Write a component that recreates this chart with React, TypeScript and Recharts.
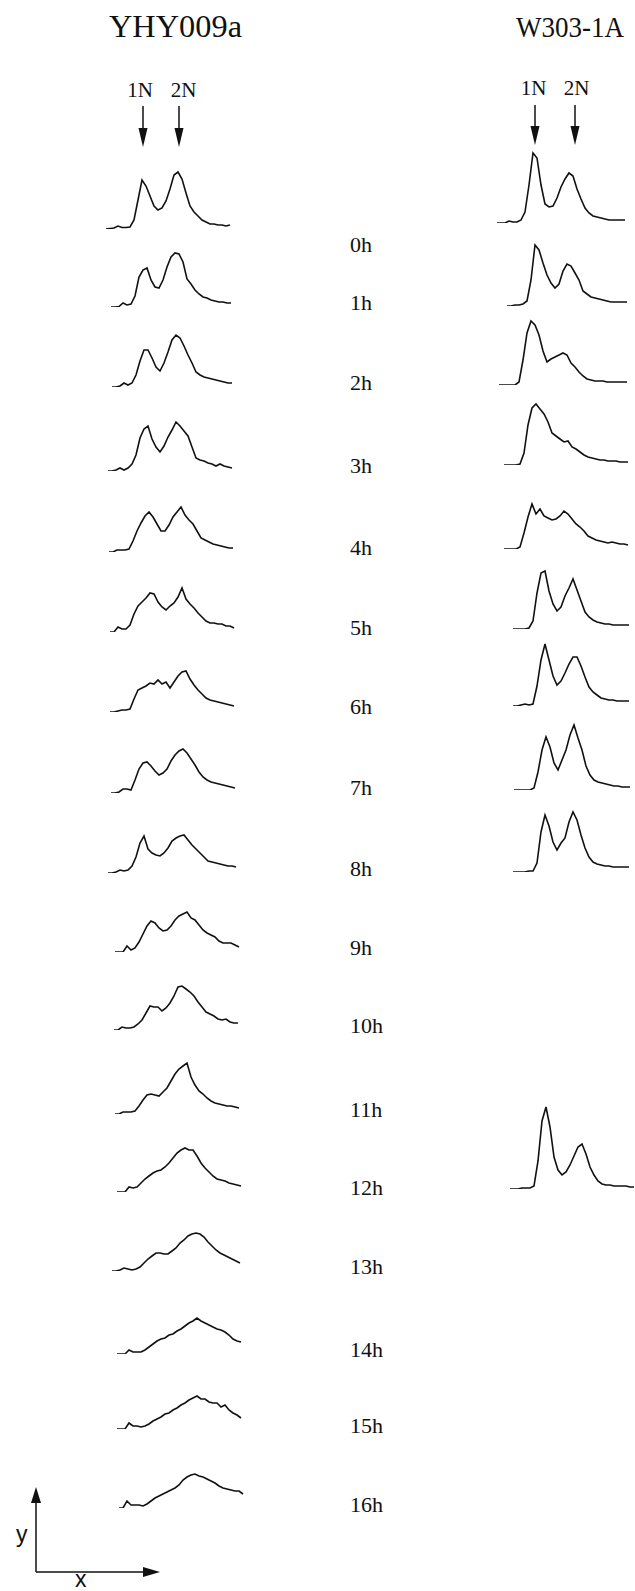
import React from 'react';
import { LineChart, Line, XAxis, YAxis } from 'recharts';

// ---- categories / labels ----
const leftTitle = 'YHY009a';
const rightTitle = 'W303-1A';
const peakLabels = ['1N', '2N'];
const leftHours = ['0h','1h','2h','3h','4h','5h','6h','7h','8h','9h','10h','11h','12h','13h','14h','15h','16h'];
const rightHours = ['0h','1h','2h','3h','4h','5h','6h','7h','8h','12h'];

// ---- series values (cell counts per DNA-content bin) : YHY009a ----
const yhy0h = [0, 0.5, 1, 3, 1.5, 1.5, 2, 9, 29, 49, 43, 33, 23, 19, 21, 28, 40, 54, 57, 50, 36, 23, 17, 13, 9, 7, 5, 5, 4, 4, 3, 4];
const yhy1h = [0, 0, 0.5, 4, 2, 3, 11, 30, 37, 39, 27, 20, 19, 27, 40, 50, 54, 53, 45, 28, 23, 17, 13, 10, 9, 7, 6, 5, 5, 4, 4];
const yhy2h = [0, 0, 1, 4, 2, 4, 12, 26, 37, 37, 29, 20, 16, 24, 35, 47, 52, 49, 41, 32, 24, 15, 12, 10, 9, 8, 7, 6, 5, 4, 4];
const yhy3h = [0, 0, 1, 3, 1, 3, 7, 16, 33, 42, 45, 32, 24, 19, 25, 34, 41, 49, 45, 40, 35, 24, 13, 11, 10, 8, 7, 5, 7, 5, 4, 3];
const yhy4h = [0, 0, 2, 2, 2, 3, 11, 21, 29, 36, 40, 35, 28, 21, 21, 27, 35, 40, 45, 37, 32, 28, 21, 14, 12, 10, 8, 7, 6, 5, 4, 4];
const yhy5h = [0, 0, 5, 3, 3, 7, 18, 26, 30, 34, 39, 38, 30, 25, 22, 26, 29, 35, 44, 33, 28, 24, 19, 15, 11, 9, 9, 8, 8, 6, 6, 4];
const yhy6h = [0, 0, 1, 2, 2, 3, 13, 22, 24, 26, 29, 28, 32, 28, 30, 24, 30, 36, 40, 41, 33, 27, 22, 18, 14, 12, 11, 10, 9, 8, 7, 6];
const yhy7h = [0, 0, 1, 4, 4, 3, 13, 24, 30, 31, 27, 22, 18, 20, 24, 32, 38, 42, 44, 40, 34, 28, 21, 16, 13, 11, 10, 9, 8, 7, 6, 5];
const yhy8h = [0, 0, 1, 3, 2, 3, 7, 16, 30, 37, 24, 20, 18, 17, 20, 25, 32, 35, 37, 38, 33, 28, 24, 20, 16, 12, 11, 10, 9, 8, 7, 7, 6];
const yhy9h = [0, 0, 0, 6, 2, 4, 10, 18, 26, 31, 29, 24, 21, 22, 26, 32, 36, 38, 40, 34, 32, 27, 22, 19, 17, 15, 11, 9, 9, 9, 7, 5];
const yhy10h = [0, 0, 3, 2, 2, 3, 6, 10, 17, 24, 23, 23, 19, 22, 27, 34, 43, 44, 41, 38, 34, 28, 23, 18, 16, 14, 11, 10, 11, 8, 7, 7];
const yhy11h = [0, 0, 2, 2, 2, 3, 8, 14, 19, 20, 19, 18, 22, 26, 33, 40, 45, 48, 51, 37, 29, 23, 20, 16, 13, 11, 10, 9, 8, 8, 7, 6];
const yhy12h = [0, 0, 0, 5, 4, 5, 9, 13, 16, 19, 21, 22, 25, 29, 34, 39, 42, 44, 42, 42, 36, 29, 24, 20, 16, 13, 12, 11, 9, 8, 7, 6];
const yhy13h = [0, 0, 1, 3, 2, 1, 2, 4, 8, 12, 15, 18, 18, 17, 17, 20, 23, 28, 31, 35, 37, 38, 37, 34, 29, 25, 21, 18, 16, 14, 12, 10, 8];
const yhy14h = [0, 0, 0, 4, 2, 2, 2, 4, 7, 10, 13, 15, 16, 19, 20, 23, 25, 28, 31, 33, 36, 33, 31, 29, 27, 25, 24, 22, 19, 15, 13, 12];
const yhy15h = [0, 0, 0, 6, 3, 3, 2, 3, 5, 8, 10, 12, 15, 16, 19, 21, 24, 26, 29, 31, 33, 30, 30, 27, 26, 26, 22, 24, 19, 16, 14, 11];
const yhy16h = [0, 0, 7, 3, 3, 3, 2, 4, 7, 10, 12, 14, 16, 18, 20, 23, 28, 31, 33, 34, 32, 31, 29, 27, 25, 22, 20, 19, 18, 17, 17, 14];

// ---- series values : W303-1A ----
const w0h = [0, 0, 0, 2, 1, 1, 3, 11, 38, 70, 65, 38, 19, 16, 17, 25, 36, 44, 50, 47, 34, 24, 15, 10, 7, 6, 5, 4, 3, 3, 3, 3, 3];
const w1h = [0, 0, 1, 1, 2, 5, 26, 61, 56, 43, 31, 23, 18, 22, 35, 42, 40, 33, 26, 15, 12, 9, 8, 7, 6, 5, 4, 4, 4, 4, 4];
const w2h = [0, 0, 0, 0, 0, 3, 25, 52, 64, 60, 50, 34, 23, 26, 28, 30, 32, 30, 22, 18, 13, 9, 6, 5, 4, 4, 4, 3, 3, 3, 3, 3, 3];
const w3h = [0, 0, 0, 0, 1, 12, 40, 57, 61, 56, 51, 43, 32, 29, 26, 23, 24, 18, 16, 13, 10, 8, 7, 6, 5, 5, 4, 4, 4, 3, 3, 3];
const w4h = [0, 0, 0, 0, 2, 16, 32, 45, 35, 40, 33, 31, 29, 30, 33, 38, 35, 30, 25, 22, 18, 13, 11, 9, 8, 7, 6, 7, 6, 5, 5, 4];
const w5h = [0, 0, 0, 0, 1, 8, 36, 56, 58, 38, 25, 18, 22, 33, 41, 50, 39, 28, 17, 12, 9, 7, 6, 5, 5, 4, 4, 4, 4, 4];
const w6h = [0, 0, 1, 2, 1, 2, 20, 46, 62, 46, 30, 21, 25, 33, 42, 49, 49, 40, 29, 19, 14, 11, 8, 7, 6, 6, 5, 5, 5, 5];
const w7h = [0, 0, 0, 0, 0, 2, 18, 40, 53, 43, 27, 20, 30, 40, 55, 65, 52, 40, 24, 15, 10, 8, 7, 6, 5, 4, 4, 3, 3, 3];
const w8h = [0, 0, 0, 0, 1, 1, 9, 40, 57, 46, 30, 22, 29, 34, 50, 60, 52, 37, 24, 15, 10, 8, 7, 6, 6, 5, 5, 5, 5, 5];
const w12h = [0, 0, 0, 1, 1, 1, 3, 28, 68, 82, 62, 32, 19, 14, 17, 24, 33, 42, 45, 35, 22, 14, 8, 5, 4, 4, 3, 3, 3, 3, 2, 2];

const leftSeries = [yhy0h, yhy1h, yhy2h, yhy3h, yhy4h, yhy5h, yhy6h, yhy7h, yhy8h, yhy9h, yhy10h, yhy11h, yhy12h, yhy13h, yhy14h, yhy15h, yhy16h];
const rightSeries = [w0h, w1h, w2h, w3h, w4h, w5h, w6h, w7h, w8h, w12h];

// ---- layout (positions only) ----
const leftLayout = [
  { x0: 106, x1: 230, base: 229.3 },
  { x0: 110.7, x1: 230.7, base: 306.7 },
  { x0: 111.7, x1: 231.7, base: 387.3 },
  { x0: 108.3, x1: 232.3, base: 470.7 },
  { x0: 109.3, x1: 233.3, base: 551.7 },
  { x0: 110, x1: 234, base: 631.7 },
  { x0: 110, x1: 234, base: 711.7 },
  { x0: 111, x1: 235, base: 792.7 },
  { x0: 108.3, x1: 236.3, base: 873.3 },
  { x0: 115, x1: 239, base: 951.7 },
  { x0: 114, x1: 238, base: 1030 },
  { x0: 115, x1: 239, base: 1114 },
  { x0: 116.7, x1: 240.7, base: 1191.7 },
  { x0: 111.7, x1: 239.7, base: 1270.7 },
  { x0: 116.7, x1: 240.7, base: 1354.3 },
  { x0: 116.7, x1: 240.7, base: 1429.3 },
  { x0: 119.3, x1: 243.3, base: 1508.3 },
];
const rightLayout = [
  { x0: 497.3, x1: 625.3, base: 223.3 },
  { x0: 507.3, x1: 627.3, base: 306 },
  { x0: 499.3, x1: 627.3, base: 385 },
  { x0: 504, x1: 628, base: 465 },
  { x0: 504, x1: 628, base: 549.3 },
  { x0: 512.7, x1: 628.7, base: 629 },
  { x0: 513.3, x1: 629.3, base: 706 },
  { x0: 514, x1: 630, base: 790 },
  { x0: 512.7, x1: 628.7, base: 872.3 },
  { x0: 510, x1: 634, base: 1189.3 },
];
const labelBaselines = [252, 310, 390, 473, 555, 635, 714, 795, 876, 955, 1033, 1117, 1195, 1274, 1357, 1433, 1512];

const H = 90;
const M = 2;

function Histogram({ values, x0, x1, base }: { values: number[]; x0: number; x1: number; base: number }) {
  const data = values.map((v, i) => ({ bin: i, count: v }));
  const w = x1 - x0;
  return (
    <div style={{ position: 'absolute', left: x0 - M, top: base - H - M }}>
      <LineChart width={w + 2 * M} height={H + 2 * M} data={data} margin={{ top: M, right: M, bottom: M, left: M }}>
        <XAxis dataKey="bin" type="number" domain={[0, values.length - 1]} hide />
        <YAxis type="number" domain={[0, H]} hide allowDataOverflow />
        <Line type="linear" dataKey="count" stroke="#111" strokeWidth={1.6} dot={false} isAnimationActive={false} />
      </LineChart>
    </div>
  );
}

function DownArrow({ x, y1, y2 }: { x: number; y1: number; y2: number }) {
  return (
    <g>
      <line x1={x} y1={y1} x2={x} y2={y2 - 16} stroke="#111" strokeWidth={1.5} />
      <polygon points={`${x - 4.5},${y2 - 19} ${x + 4.5},${y2 - 19} ${x},${y2}`} fill="#111" />
    </g>
  );
}

const serif = '"Liberation Serif", "Times New Roman", serif';
const sans = '"Liberation Sans", Arial, sans-serif';

export default function App() {
  return (
    <div style={{ position: 'absolute', left: 0, top: 0, width: 635, height: 1591, background: '#fff', overflow: 'hidden' }}>
      {leftSeries.map((s, i) => (
        <Histogram key={'l' + i} values={s} {...leftLayout[i]} />
      ))}
      {rightSeries.map((s, i) => (
        <Histogram key={'r' + i} values={s} {...rightLayout[i]} />
      ))}
      <svg width={635} height={1591} style={{ position: 'absolute', left: 0, top: 0, pointerEvents: 'none' }}>
        <text x={109} y={37} fontFamily={serif} fontSize={32} fill="#111" textLength={133} lengthAdjust="spacingAndGlyphs">{leftTitle}</text>
        <text x={516} y={37} fontFamily={serif} fontSize={30} fill="#111" textLength={108} lengthAdjust="spacingAndGlyphs">{rightTitle}</text>
        <text x={140} y={97} fontFamily={serif} fontSize={21} textAnchor="middle" fill="#111">{peakLabels[0]}</text>
        <text x={183.5} y={97} fontFamily={serif} fontSize={21} textAnchor="middle" fill="#111">{peakLabels[1]}</text>
        <text x={533.5} y={95} fontFamily={serif} fontSize={21} textAnchor="middle" fill="#111">{peakLabels[0]}</text>
        <text x={576.5} y={95} fontFamily={serif} fontSize={21} textAnchor="middle" fill="#111">{peakLabels[1]}</text>
        <DownArrow x={143} y1={106} y2={147} />
        <DownArrow x={179} y1={106} y2={147} />
        <DownArrow x={535} y1={105} y2={145} />
        <DownArrow x={575} y1={105} y2={145} />
        {leftHours.map((h, i) => (
          <text key={h} x={350} y={labelBaselines[i]} fontFamily={serif} fontSize={22} fill="#111">{h}</text>
        ))}
        {/* axis key */}
        <line x1={36} y1={1572} x2={36} y2={1500} stroke="#111" strokeWidth={1.5} />
        <polygon points="31,1503 41,1503 36,1487" fill="#111" />
        <line x1={36} y1={1572} x2={145} y2={1572} stroke="#111" strokeWidth={1.5} />
        <polygon points="143,1567 143,1577 160,1572" fill="#111" />
        <text x={16} y={1542} fontFamily={sans} fontSize={23} fill="#111">y</text>
        <text x={75} y={1587} fontFamily={sans} fontSize={23} fill="#111">x</text>
      </svg>
    </div>
  );
}
